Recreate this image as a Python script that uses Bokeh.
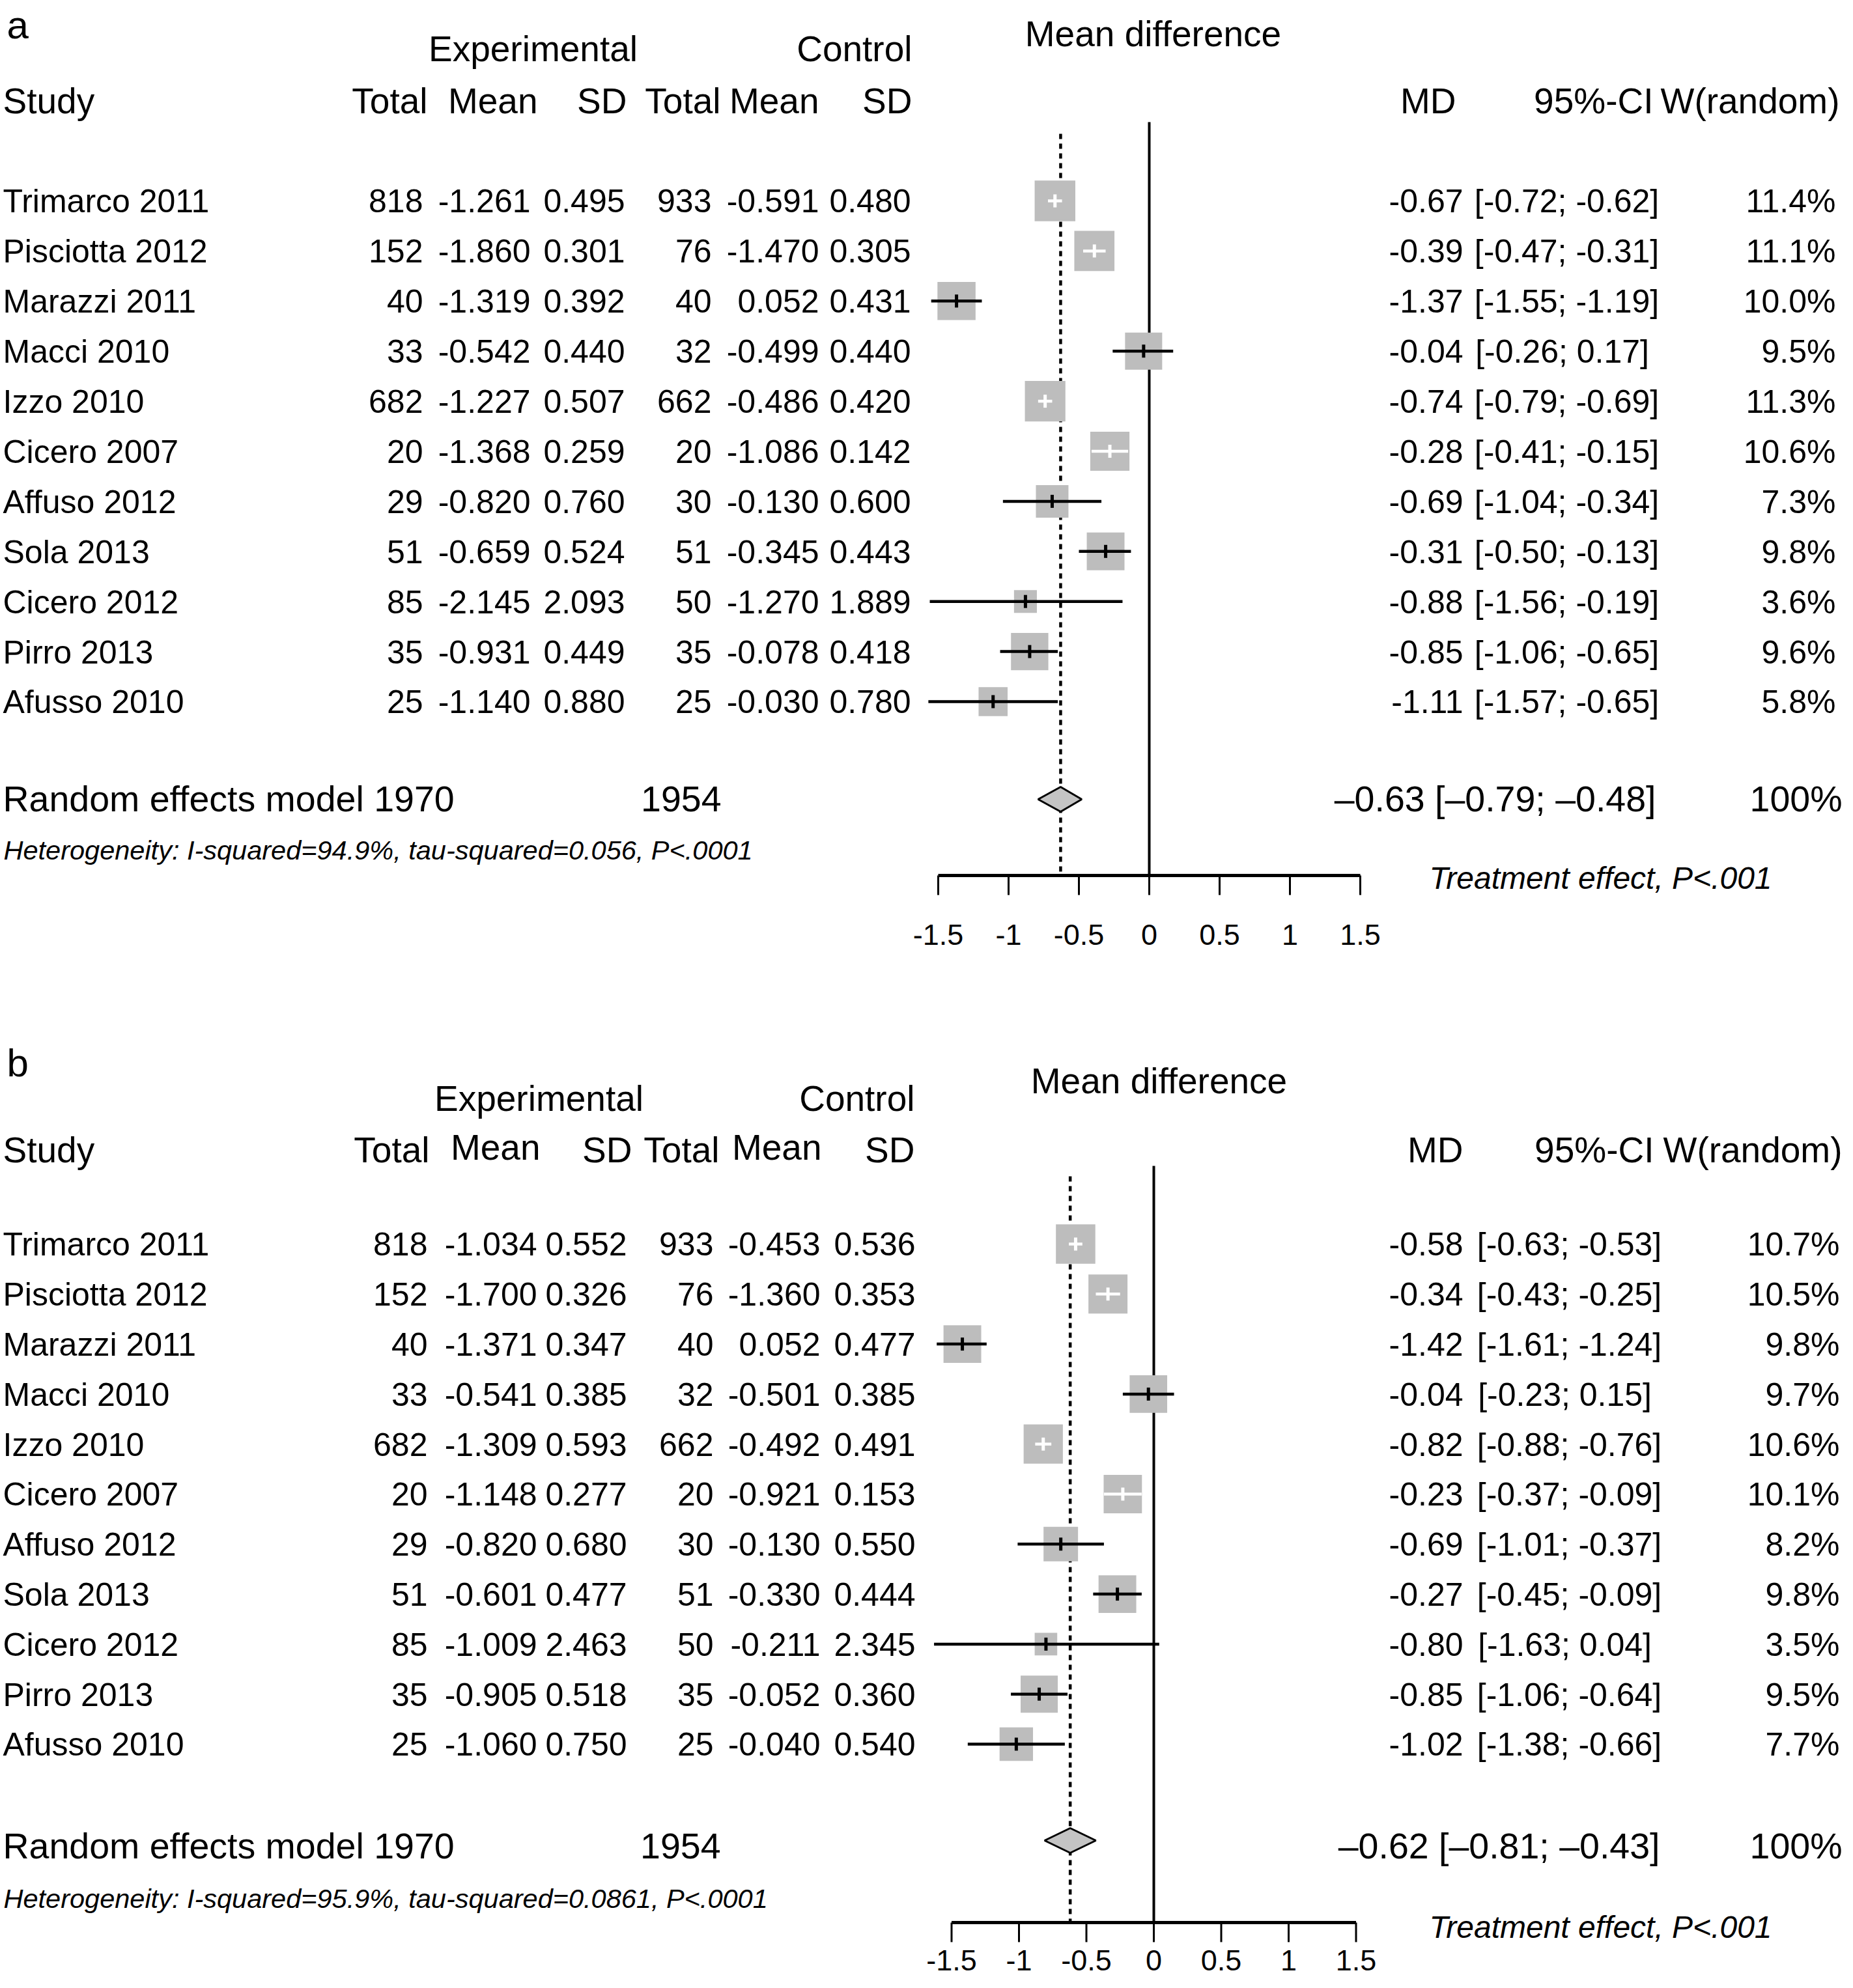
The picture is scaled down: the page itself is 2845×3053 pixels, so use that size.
import numpy as np
from bokeh.plotting import figure
from bokeh.models import Range1d, ColumnDataSource, LabelSet
from bokeh.layouts import column
from bokeh.core.properties import value
from bokeh.embed import file_html
from bokeh.resources import INLINE

# ---------------- data ----------------
studies = ["Trimarco 2011", "Pisciotta 2012", "Marazzi 2011", "Macci 2010", "Izzo 2010",
           "Cicero 2007", "Affuso 2012", "Sola 2013", "Cicero 2012", "Pirro 2013", "Afusso 2010"]
exp_n = [818, 152, 40, 33, 682, 20, 29, 51, 85, 35, 25]
ctl_n = [933, 76, 40, 32, 662, 20, 30, 51, 50, 35, 25]

a_exp_mean = [-1.261, -1.860, -1.319, -0.542, -1.227, -1.368, -0.820, -0.659, -2.145, -0.931, -1.140]
a_exp_sd = [0.495, 0.301, 0.392, 0.440, 0.507, 0.259, 0.760, 0.524, 2.093, 0.449, 0.880]
a_ctl_mean = [-0.591, -1.470, 0.052, -0.499, -0.486, -1.086, -0.130, -0.345, -1.270, -0.078, -0.030]
a_ctl_sd = [0.480, 0.305, 0.431, 0.440, 0.420, 0.142, 0.600, 0.443, 1.889, 0.418, 0.780]
a_md = [-0.67, -0.39, -1.37, -0.04, -0.74, -0.28, -0.69, -0.31, -0.88, -0.85, -1.11]
a_lo = [-0.72, -0.47, -1.55, -0.26, -0.79, -0.41, -1.04, -0.50, -1.56, -1.06, -1.57]
a_hi = [-0.62, -0.31, -1.19, 0.17, -0.69, -0.15, -0.34, -0.13, -0.19, -0.65, -0.65]
a_w = [11.4, 11.1, 10.0, 9.5, 11.3, 10.6, 7.3, 9.8, 3.6, 9.6, 5.8]
a_re = (-0.63, -0.79, -0.48)
a_het = "Heterogeneity: I-squared=94.9%, tau-squared=0.056, P<.0001"

b_exp_mean = [-1.034, -1.700, -1.371, -0.541, -1.309, -1.148, -0.820, -0.601, -1.009, -0.905, -1.060]
b_exp_sd = [0.552, 0.326, 0.347, 0.385, 0.593, 0.277, 0.680, 0.477, 2.463, 0.518, 0.750]
b_ctl_mean = [-0.453, -1.360, 0.052, -0.501, -0.492, -0.921, -0.130, -0.330, -0.211, -0.052, -0.040]
b_ctl_sd = [0.536, 0.353, 0.477, 0.385, 0.491, 0.153, 0.550, 0.444, 2.345, 0.360, 0.540]
b_md = [-0.58, -0.34, -1.42, -0.04, -0.82, -0.23, -0.69, -0.27, -0.80, -0.85, -1.02]
b_lo = [-0.63, -0.43, -1.61, -0.23, -0.88, -0.37, -1.01, -0.45, -1.63, -1.06, -1.38]
b_hi = [-0.53, -0.25, -1.24, 0.15, -0.76, -0.09, -0.37, -0.09, 0.04, -0.64, -0.66]
b_w = [10.7, 10.5, 9.8, 9.7, 10.6, 10.1, 8.2, 9.8, 3.5, 9.5, 7.7]
b_re = (-0.62, -0.81, -0.43)
b_het = "Heterogeneity: I-squared=95.9%, tau-squared=0.0861, P<.0001"

ticks = [-1.5, -1, -0.5, 0, 0.5, 1, 1.5]
tick_labels = ["-1.5", "-1", "-0.5", "0", "0.5", "1", "1.5"]
col_heads = ["Total", "Mean", "SD", "Total", "Mean", "SD"]
right_heads = ["MD", "95%-CI", "W(random)"]

# ---------------- layout (page pixels) ----------------
FONT = "Liberation Sans"
W = 2829
F_HEAD, F_ROW, F_RE, F_HET, F_TE, F_TICK, F_LET = 55, 50, 55.5, 41.5, 48, 45, 60

LA = dict(letter="a", top=0, height=1582, axis=1344, zero=1764, unit=216, y0=308, dy=76.9,
          let_base=58, exp_center=818, exp_base=93, ctrl_right=1400, mdt_center=1770, mdt_base=70,
          head_base=173, head_mean_base=173, head_x=[656, 825, 962, 1106, 1257, 1400],
          head_right=[2235, 2538, 2824],
          val_x=[649, 814, 959, 1092, 1257, 1398], md_x=2246, ci_c=2405, w_x=2818,
          re_base=1245, re_ctl_x=1107, re_md_x=2542, re_w_x=2828, diamond_y=1227,
          het_base=1319, te_base=1364, tick_base=1450, zline_top=187, dline_top=205)
LB = dict(letter="b", top=1582, height=1455, axis=2952, zero=1771, unit=207, y0=1910, dy=76.8,
          let_base=1652, exp_center=827, exp_base=1705, ctrl_right=1404, mdt_center=1779, mdt_base=1678,
          head_base=1784, head_mean_base=1780, head_x=[659, 829, 970, 1104, 1261, 1404],
          head_right=[2246, 2539, 2828],
          val_x=[656, 824, 962, 1095, 1259, 1405], md_x=2246, ci_c=2409, w_x=2824,
          re_base=2853, re_ctl_x=1106, re_md_x=2548, re_w_x=2828, diamond_y=2826,
          het_base=2929, te_base=2975, tick_base=3025, zline_top=1790, dline_top=1806)


def make_panel(L, exp_mean, exp_sd, ctl_mean, ctl_sd, md, lo, hi, w, re, het):
    unit, zero, dy, y0 = L["unit"], L["zero"], L["dy"], L["y0"]

    def X(px):
        return (px - zero) / unit

    def Y(py):
        return (py - y0) / dy

    p = figure(width=W, height=L["height"],
               x_range=Range1d(X(0), X(W)),
               y_range=Range1d(Y(L["top"] + L["height"]), Y(L["top"])),
               output_backend="svg", toolbar_location=None,
               x_axis_location=None, y_axis_location=None, min_border=0)
    p.grid.visible = False
    p.outline_line_color = None
    p.background_fill_color = "white"
    p.border_fill_color = "white"

    def txt(xs, ys, texts, size, align="left", style="normal"):
        src = ColumnDataSource(dict(x=list(xs), y=list(ys), text=list(texts)))
        p.add_layout(LabelSet(x="x", y="y", text="text", source=src,
                              text_font=value(FONT), text_font_size=f"{size}px",
                              text_align=align, text_baseline="alphabetic",
                              text_font_style=style, text_color="black"))

    n = len(studies)
    rows = np.arange(n)
    row_base = rows + 0.358 * F_ROW / dy

    # titles / headers
    txt([X(10)], [Y(L["let_base"])], [L["letter"]], F_LET)
    txt([X(L["exp_center"])], [Y(L["exp_base"])], ["Experimental"], F_HEAD, "center")
    txt([X(L["ctrl_right"])], [Y(L["exp_base"])], ["Control"], F_HEAD, "right")
    txt([X(L["mdt_center"])], [Y(L["mdt_base"])], ["Mean difference"], F_HEAD, "center")
    txt([X(4)], [Y(L["head_base"])], ["Study"], F_HEAD)
    hb = [L["head_base"], L["head_mean_base"], L["head_base"]] * 2
    txt([X(v) for v in L["head_x"]], [Y(v) for v in hb], col_heads, F_HEAD, "right")
    txt([X(v) for v in L["head_right"]], [Y(L["head_base"])] * 3, right_heads, F_HEAD, "right")

    # study rows
    txt([X(4)] * n, row_base, studies, F_ROW)
    cols = [[str(v) for v in exp_n], [f"{v:.3f}" for v in exp_mean], [f"{v:.3f}" for v in exp_sd],
            [str(v) for v in ctl_n], [f"{v:.3f}" for v in ctl_mean], [f"{v:.3f}" for v in ctl_sd]]
    for cx, c in zip(L["val_x"], cols):
        txt([X(cx)] * n, row_base, c, F_ROW, "right")
    txt([X(L["md_x"])] * n, row_base, [f"{v:.2f}" for v in md], F_ROW, "right")
    txt([X(L["ci_c"])] * n, row_base, [f"[{a:.2f}; {b: .2f}]" for a, b in zip(lo, hi)], F_ROW, "center")
    txt([X(L["w_x"])] * n, row_base, [f"{v:.1f}%" for v in w], F_ROW, "right")

    # random effects row
    txt([X(4)], [Y(L["re_base"])], [f"Random effects model {sum(exp_n)}"], F_RE)
    txt([X(L["re_ctl_x"])], [Y(L["re_base"])], [str(sum(ctl_n))], F_RE, "right")
    re_txt = f"{re[0]:.2f} [{re[1]:.2f}; {re[2]:.2f}]".replace("-", "\u2013")
    txt([X(L["re_md_x"])], [Y(L["re_base"])], [re_txt], F_RE, "right")
    txt([X(L["re_w_x"])], [Y(L["re_base"])], [f"{sum(w):.0f}%"], F_RE, "right")
    txt([X(5)], [Y(L["het_base"])], [het], F_HET, "left", "italic")
    txt([X(2194)], [Y(L["te_base"])], ["Treatment effect, P<.001"], F_TE, "left", "italic")

    # x axis: line, ticks, labels
    ya = Y(L["axis"])
    p.segment(x0=[ticks[0]], y0=[ya], x1=[ticks[-1]], y1=[ya],
              line_color="black", line_width=5, line_cap="butt")
    p.segment(x0=ticks, y0=[ya] * len(ticks), x1=ticks, y1=[Y(L["axis"] + 30)] * len(ticks),
              line_color="black", line_width=3)
    txt(ticks, [Y(L["tick_base"])] * len(ticks), tick_labels, F_TICK, "center")

    # reference lines
    p.segment(x0=[0], y0=[Y(L["zline_top"])], x1=[0], y1=[ya], line_color="black", line_width=4)
    p.segment(x0=[re[0]], y0=[Y(L["dline_top"])], x1=[re[0]], y1=[ya],
              line_color="black", line_width=4.5, line_dash="8 7")

    # squares and confidence intervals
    md_a, lo_a, hi_a, w_a = map(np.asarray, (md, lo, hi, w))
    side = 18.5 * np.sqrt(w_a)
    inside = (hi_a - lo_a) * unit < side
    colors = np.where(inside, "white", "black").tolist()
    p.scatter(x=md_a, y=rows, size=side, marker="square", fill_color="#bdbdbd", line_color=None)
    p.segment(x0=lo_a, y0=rows, x1=hi_a, y1=rows, line_color=colors, line_width=4.5)
    p.segment(x0=md_a, y0=rows - 10 / dy, x1=md_a, y1=rows + 10 / dy, line_color=colors, line_width=5)

    # pooled diamond
    yd = Y(L["diamond_y"])
    h = 19 / dy
    p.patch(x=[re[1], re[0], re[2], re[0]], y=[yd, yd - h, yd, yd + h],
            fill_color="#c4c4c4", line_color="black", line_width=3)
    return p


pa = make_panel(LA, a_exp_mean, a_exp_sd, a_ctl_mean, a_ctl_sd, a_md, a_lo, a_hi, a_w, a_re, a_het)
pb = make_panel(LB, b_exp_mean, b_exp_sd, b_ctl_mean, b_ctl_sd, b_md, b_lo, b_hi, b_w, b_re, b_het)

layout = column(pa, pb, spacing=0)
open("out.html", "w").write(file_html(layout, INLINE))
